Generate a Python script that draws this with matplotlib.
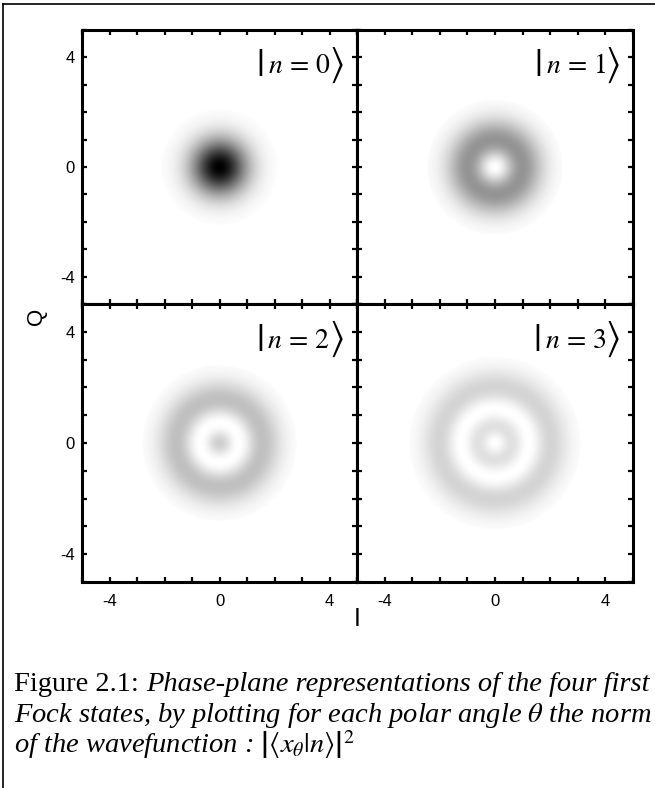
import numpy as np
import matplotlib.pyplot as plt
from matplotlib.lines import Line2D
from matplotlib.ticker import MultipleLocator
from numpy.polynomial.hermite import hermval
from math import factorial

plt.rcParams['mathtext.fontset'] = 'stix'
plt.rcParams['axes.unicode_minus'] = False

# Fock states shown, one per panel
fock_n = [0, 1, 2, 3]
ket_labels = [r'$n\,=\,0$', r'$n\,=\,1$', r'$n\,=\,2$', r'$n\,=\,3$']
# darkest grey reached in each panel (1 = black)
peak_shade = [1.0, 0.42, 0.25, 0.17]
# radius where the shaded disc stops
r_edge = [2.1, 2.45, 2.8, 3.1]
axis_range = [-5, 5]
tick_vals = [-4, 0, 4]
tick_text = ['-4', '0', '4']

W, H = 655, 788
fig = plt.figure(figsize=(W / 100, H / 100), dpi=100)
renderer = fig.canvas.get_renderer()


def rect(x0, y0, x1, y1):
    return [x0 / W, 1 - y1 / H, (x1 - x0) / W, (y1 - y0) / H]


boxes = [(82, 30, 357, 304), (357, 30, 633, 304),
         (82, 304, 357, 582), (357, 304, 633, 582)]

grid = np.linspace(axis_range[0], axis_range[1], 700)
X, Y = np.meshgrid(grid, grid)
R = np.hypot(X, Y)

sans = ['Liberation Sans', 'DejaVu Sans']

for k, n in enumerate(fock_n):
    ax = fig.add_axes(rect(*boxes[k]))
    c = np.zeros(n + 1)
    c[n] = 1
    dens = hermval(R, c) ** 2 * np.exp(-R ** 2) / (2 ** n * factorial(n) * np.sqrt(np.pi))
    img = dens / dens.max() * peak_shade[k] * (R <= r_edge[k])
    ax.imshow(img, cmap='gray_r', vmin=0, vmax=1, origin='lower',
              extent=axis_range + axis_range, interpolation='bilinear')
    ax.set_xlim(axis_range)
    ax.set_ylim(axis_range)
    ax.set_aspect('auto')
    ax.set_xticks(tick_vals)
    ax.set_yticks(tick_vals)
    ax.xaxis.set_minor_locator(MultipleLocator(1))
    ax.yaxis.set_minor_locator(MultipleLocator(1))
    ax.tick_params(which='both', direction='in', top=True, right=True,
                   length=3.5, width=1.6, color='black')
    ax.tick_params(labelleft=(k % 2 == 0), labelbottom=(k >= 2))
    if k % 2 == 0:
        ax.set_yticklabels(tick_text)
    if k >= 2:
        ax.set_xticklabels(tick_text)
    ax.tick_params(axis='y', pad=5)
    ax.tick_params(axis='x', pad=9)
    for lab in ax.get_xticklabels() + ax.get_yticklabels():
        lab.set_family(sans)
        lab.set_fontsize(12)
    for s in ax.spines.values():
        s.set_linewidth(2.2)

    # ket label |n=k>, built from pieces so the brackets are tall
    pos = ax.get_position()
    xr = (pos.x0 + 0.952 * pos.width) * W
    yc = (pos.y0 + 0.872 * pos.height) * H
    t3 = fig.text(xr / W, yc / H, r'$\rangle$', fontsize=28, ha='right', va='center')
    b3 = t3.get_window_extent(renderer=renderer)
    t2 = fig.text((b3.x0 + 1) / W, yc / H, ket_labels[k], fontsize=20,
                  ha='right', va='center')
    b2 = t2.get_window_extent(renderer=renderer)
    fig.text((b2.x0 - 4) / W, yc / H, r'$|$', fontsize=28, ha='right', va='center')

fig.text(36 / W, 1 - 316 / H, 'Q', rotation=90, ha='center', va='center',
         fontsize=16, family=sans)
fig.text(357 / W, 1 - 619 / H, 'I', ha='center', va='center',
         fontsize=18, family=sans)

# page frame (left and top edges)
fig.add_artist(Line2D([3 / W, 3 / W], [0, 1 - 4 / H], color='black', lw=1.2))
fig.add_artist(Line2D([3 / W, 1], [1 - 4 / H, 1 - 4 / H], color='black', lw=1.2))

# caption
cap_x = 14 / W
cap_size = 20.5
serif = ['Liberation Serif', 'DejaVu Serif']
t0 = fig.text(cap_x, 1 - 691 / H, 'Figure 2.1: ', fontsize=cap_size,
              family=serif, va='baseline')
bb = t0.get_window_extent(renderer=renderer)
fig.text(bb.x1 / W, 1 - 691 / H, 'Phase-plane representations of the four first',
         fontsize=cap_size, family=serif, style='italic', va='baseline')
fig.text(cap_x, 1 - 722 / H,
         r'Fock states, by plotting for each polar angle $\theta$ the norm',
         fontsize=cap_size, family=serif, style='italic', va='baseline')
fig.text(cap_x, 1 - 753 / H,
         r'of the wavefunction : $\left|\langle x_\theta|n\rangle\right|^2$',
         fontsize=cap_size, family=serif, style='italic', va='baseline')

fig.savefig('out.png', dpi=100)
